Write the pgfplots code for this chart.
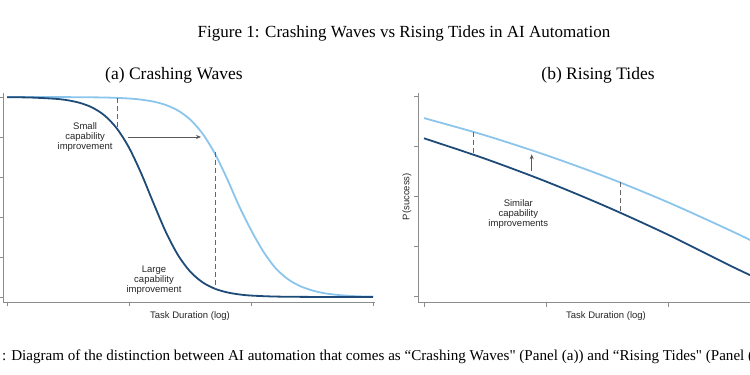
\documentclass[border=0pt]{standalone}
\usepackage{fontspec}
\setmainfont{Liberation Serif}[Ligatures=TeXOff]
\newfontfamily\helv{Liberation Sans}
\usepackage{pgfplots}
\pgfplotsset{compat=1.18}
\usetikzlibrary{arrows.meta}
\definecolor{navyc}{HTML}{1E4B78}
\definecolor{ltbluec}{HTML}{8CC5EC}
\definecolor{axgray}{HTML}{8C8C8C}
\definecolor{dashgray}{HTML}{666666}
\tikzset{
  curve/.style={line width=1.8pt, smooth},
  dsh/.style={draw=dashgray, line width=0.8pt, dash pattern=on 5pt off 3pt},
  arr/.style={draw=black!65, line width=0.7pt, -{Stealth[length=5pt,width=4pt]}},
  ann/.style={font=\helv\fontsize{9.5}{10}\selectfont, align=center, text=black!85}}
\pgfplotsset{stataax/.style={
  scale only axis, axis lines=left,
  axis line style={-, draw=axgray, line width=0.6pt},
  tick align=outside, major tick length=4pt,
  tick style={draw=axgray, line width=0.6pt},
  clip=false}}
\begin{document}
\begin{tikzpicture}
\useasboundingbox (0pt,0pt) rectangle (750pt,375pt);
\clip (0pt,0pt) rectangle (750pt,375pt);
% titles
\node[font=\fontsize{17}{20}\selectfont] at (404pt,342pt) {Figure 1: Crashing Waves vs Rising Tides in AI Automation};
\node[font=\fontsize{17.5}{20}\selectfont] at (174pt,300pt) {(a) Crashing Waves};
\node[font=\fontsize{17.5}{20}\selectfont] at (598pt,300pt) {(b) Rising Tides};
\node[font=\fontsize{15.1}{18}\selectfont, anchor=west] at (-1.5pt,18pt) {: Diagram of the distinction between AI automation that comes as “Crashing Waves" (Panel (a)) and “Rising Tides" (Panel (b)).};
\node[ann] at (190pt,59pt) {Task Duration (log)};
\node[ann] at (606pt,59pt) {Task Duration (log)};
\node[ann, rotate=90] at (407pt,178.3pt) {P(success)};
% panel a
\begin{axis}[stataax, at={(3pt,72.5pt)}, anchor=south west,
  width=372pt, height=209.5pt,
  xmin=-0.033, xmax=3.016, ymin=-0.0275, ymax=1.02,
  xtick={0,1,2,3}, ytick={0,0.2,0.4,0.6,0.8,1},
  xticklabels={,,,}, yticklabels={,,,,,}]
\addplot[curve, no markers, ltbluec] coordinates {(0,1.0) (0.4,0.9997) (0.8,0.9975) (1.0,0.9924) (1.1,0.9867) (1.2,0.977) (1.3,0.9604) (1.4,0.9327) (1.5,0.8879) (1.6,0.8191) (1.7,0.7211) (1.8,0.5963) (1.9,0.4576) (2.0,0.335) (2.1,0.228) (2.2,0.145) (2.3,0.090) (2.4,0.055) (2.5,0.033) (2.6,0.019) (2.7,0.011) (2.8,0.006) (2.9,0.003) (3.0,0.002)};
\addplot[curve, no markers, navyc] coordinates {(0,0.9992) (0.2,0.9972) (0.4,0.9908) (0.5,0.9834) (0.6,0.9701) (0.7,0.9469) (0.8,0.9072) (0.9,0.8429) (1.0,0.7466) (1.1,0.6177) (1.2,0.47) (1.3,0.3274) (1.4,0.2108) (1.5,0.1279) (1.6,0.0745) (1.7,0.0423) (1.8,0.0237) (1.9,0.0131) (2.0,0.0072) (2.2,0.0022) (2.5,0.0004) (3.0,0.0)};
\addplot[dsh] coordinates {(0.902,0.995) (0.902,0.845)};
\addplot[dsh] coordinates {(1.705,0.725) (1.705,0.042)};
\addplot[arr] coordinates {(0.99,0.80) (1.59,0.80)};
\node[ann] at (axis cs:0.64,0.80) {Small\\capability\\improvement};
\node[ann] at (axis cs:1.205,0.082) {Large\\capability\\improvement};
\end{axis}
% panel b
\begin{axis}[stataax, at={(418pt,72.3pt)}, anchor=south west,
  width=374pt, height=210pt,
  xmin=-0.049, xmax=3.016, ymin=-0.03, ymax=1.02,
  xtick={0,1,2,3}, ytick={0,0.25,0.5,0.75,1},
  xticklabels={,,,}, yticklabels={,,,,}]
\addplot[curve, no markers, ltbluec] coordinates {(0,0.893) (0.5,0.807) (1.0,0.708) (1.5,0.597) (2.0,0.472) (2.5,0.334) (2.8,0.245) (3.0,0.18)};
\addplot[curve, no markers, navyc] coordinates {(0,0.792) (0.5,0.690) (1.0,0.576) (1.5,0.449) (2.0,0.310) (2.5,0.158) (2.8,0.071) (3.0,0.01)};
\addplot[dsh] coordinates {(0.405,0.824) (0.405,0.711)};
\addplot[dsh] coordinates {(1.607,0.571) (1.607,0.421)};
\addplot[arr] coordinates {(0.883,0.63) (0.883,0.712)};
\node[ann] at (axis cs:0.773,0.412) {Similar\\capability\\improvements};
\end{axis}
\end{tikzpicture}
\end{document}
